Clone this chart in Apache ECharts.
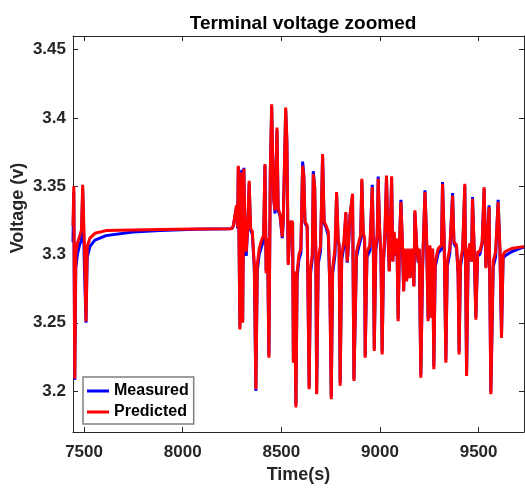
<!DOCTYPE html>
<html><head><meta charset="utf-8">
<script src="https://cdn.jsdelivr.net/npm/echarts@6/dist/echarts.min.js"></script>
<style>html,body{margin:0;padding:0;background:#fff}#c{width:525px;height:489px}</style>
</head><body><div id="c"></div>
<script>
const timeSec = [
7444,7448,7453,7458,7466,7479,7487,7493,7502,7510,
7516,7530,7555,7611,7748,7885,8062,8239,
8250,8257,8266,8273,8278,8282,8290,8295,8299,8304,
8310,8316,8322,8329,8337,8344,8353,8363,8371,8378,
8388,8400,8410,8417,8423,8430,8437,8444,8451,8456,
8461,8468,8478,8484,8493,8501,8505,8510,8522,8528,
8535,8545,8557,8561,8566,8574,8580,8589,8599,8608,
8614,8620,8631,8641,8648,8657,8662,8669,8675,8679,
8687,8699,8709,8717,8726,8738,8746,8753,8760,8772,
8780,8788,8793,8798,8806,8817,8827,8834,8841,8848,
8854,8861,8868,8881,8893,8902,8908,8915,8922,8925,
8934,8949,8961,8966,8971,8979,8986,8991,8998,9005,
9011,9018,9025,9033,9040,9047,9052,9059,9065,9072,
9081,9086,9092,9099,9106,9113,9120,9126,9135,9143,
9152,9160,9166,9172,9177,9186,9194,9199,9207,9216,
9228,9236,9244,9253,9262,9267,9273,9280,9295,9312,
9317,9325,9334,9341,9354,9368,9375,9388,9396,9401,
9408,9419,9430,9439,9447,9456,9464,9469,9477,9486,
9495,9506,9518,9528,9537,9543,9553,9562,9574,9586,
9599,9608,9616,9624,9633,9667,9700,9730
];
const predicted = [
3.321,3.350,3.209,3.300,3.308,3.314,3.318,3.351,3.305,3.251,
3.306,3.312,3.3155,3.3175,3.318,3.3183,3.3186,3.3188,
3.3190,3.3214,3.3210,3.3360,3.3200,3.3650,3.2450,3.3200,3.3600,3.2500,
3.3627,3.3120,3.3020,3.3190,3.3540,3.3190,3.3170,3.2923,3.2013,3.2923,
3.3044,3.3105,3.3141,3.3663,3.2862,3.3120,3.2244,3.3600,3.4100,3.3720,
3.3408,3.3323,3.3930,3.3335,3.3300,3.3287,3.3130,3.3263,3.4076,3.3845,
3.2923,3.3239,3.3239,3.2207,3.2875,3.1880,3.2870,3.2996,3.3044,3.3650,
3.3570,3.3239,3.3214,3.2013,3.2899,3.2996,3.3590,3.3500,3.2996,3.1977,
3.2972,3.3068,3.3736,3.3239,3.3214,3.3166,3.2753,3.1940,3.2899,3.3044,
3.3457,3.3117,3.3068,3.2038,3.2996,3.3093,3.3311,3.2948,3.3093,3.3287,
3.3287,3.3445,3.2074,3.3020,3.3093,3.3141,3.3554,3.3166,3.3117,3.2244,
3.3020,3.3068,3.3493,3.3117,3.2293,3.3068,3.3141,3.3554,3.3190,3.2996,
3.2268,3.2972,3.3166,3.3578,3.3166,3.2875,3.3141,3.3573,3.2948,3.3166,
3.2996,3.3117,3.2511,3.3093,3.3384,3.3117,3.2729,3.3044,3.2802,3.3044,
3.2826,3.3044,3.2923,3.2765,3.3323,3.3068,3.2948,3.3044,3.2098,3.2923,
3.3457,3.3141,3.2511,3.3068,3.2535,3.3044,3.2159,3.2948,3.3044,3.3068,
3.3517,3.3141,3.2207,3.2948,3.3044,3.3432,3.3093,3.3068,3.2850,3.2268,
3.2948,3.3044,3.3517,3.2111,3.3020,3.3081,3.2948,3.3408,3.3068,3.2523,
3.3020,3.3020,3.3093,3.3493,3.2899,3.3068,3.3348,3.1977,3.2948,3.3020,
3.3384,3.3044,3.2389,3.2996,3.3020,3.3044,3.3052,3.3057
];
const measured = [
3.309,3.346,3.208,3.290,3.300,3.308,3.310,3.348,3.290,3.250,
3.298,3.306,3.3105,3.3138,3.3165,3.3175,3.3184,3.3188,
3.3190,3.3210,3.3205,3.3350,3.3190,3.3640,3.2470,3.3180,3.3620,3.2520,
3.3635,3.3100,3.2990,3.3175,3.3520,3.3180,3.3150,3.2900,3.2000,3.2880,
3.3000,3.3060,3.3100,3.3650,3.2880,3.3110,3.2260,3.3580,3.4080,3.3700,
3.3420,3.3300,3.3910,3.3320,3.3290,3.3280,3.3120,3.3250,3.4060,3.3830,
3.2940,3.3230,3.3230,3.2230,3.2870,3.1900,3.2830,3.2960,3.3010,3.3680,
3.3580,3.3230,3.3200,3.2030,3.2860,3.2970,3.3610,3.3490,3.2990,3.1990,
3.2930,3.3030,3.3720,3.3230,3.3200,3.3140,3.2760,3.1960,3.2860,3.3000,
3.3440,3.3100,3.3060,3.2060,3.2960,3.3060,3.3300,3.2940,3.3080,3.3280,
3.3280,3.3430,3.2090,3.2980,3.3060,3.3110,3.3540,3.3150,3.3100,3.2260,
3.2980,3.3030,3.3510,3.3100,3.2310,3.3030,3.3120,3.3570,3.3180,3.2990,
3.2290,3.2940,3.3140,3.3560,3.3150,3.2880,3.3120,3.3560,3.2950,3.3150,
3.2990,3.3100,3.2530,3.3070,3.3400,3.3100,3.2740,3.3030,3.2810,3.3030,
3.2830,3.3030,3.2920,3.2770,3.3310,3.3050,3.2940,3.3030,3.2120,3.2890,
3.3470,3.3130,3.2530,3.3050,3.2550,3.3030,3.2180,3.2910,3.3010,3.3040,
3.3530,3.3130,3.2230,3.2910,3.3010,3.3450,3.3080,3.3050,3.2860,3.2290,
3.2910,3.3010,3.3500,3.2130,3.2990,3.3060,3.2950,3.3420,3.3050,3.2540,
3.2990,3.3000,3.3080,3.3480,3.2910,3.3050,3.3360,3.1990,3.2910,3.2980,
3.3400,3.3030,3.2410,3.2970,3.2990,3.3020,3.3040,3.3055
];
const xTicks = [7500, 8000, 8500, 9000, 9500];
const yTicks = [3.2, 3.25, 3.3, 3.35, 3.4, 3.45];
const xLimits = [7444, 9730];
const yLimits = [3.17, 3.46];

if (timeSec.length !== predicted.length || timeSec.length !== measured.length) {
  console.error('length mismatch', timeSec.length, predicted.length, measured.length);
}

const FONT = '"Liberation Sans", Arial, sans-serif';
const AX = '#262626';
const pair = vals => timeSec.map((t, i) => [t, vals[i]]);

const chart = echarts.init(document.getElementById('c'), null, {renderer: 'canvas'});
const baseX = {
  type: 'value', min: xLimits[0], max: xLimits[1],
  splitLine: {show: false},
  axisLine: {show: true, onZero: false, lineStyle: {color: AX, width: 1}},
  axisTick: {show: true, inside: true, length: 5, customValues: xTicks, lineStyle: {color: AX}},
};
const baseY = {
  type: 'value', min: yLimits[0], max: yLimits[1],
  splitLine: {show: false},
  axisLine: {show: true, onZero: false, lineStyle: {color: AX, width: 1}},
  axisTick: {show: true, inside: true, length: 5, customValues: yTicks, lineStyle: {color: AX}},
};
chart.setOption({
  animation: false,
  backgroundColor: '#fff',
  title: {
    text: 'Terminal voltage zoomed', left: 298, top: 9, textAlign: 'center',
    textStyle: {fontSize: 19, fontWeight: 'bold', color: '#000', fontFamily: FONT}
  },
  grid: {left: 73, right: 1, top: 36, bottom: 55, containLabel: false},
  legend: {
    orient: 'vertical', left: 83, top: 377,
    padding: [5, 5, 3, 4], itemGap: 3, itemWidth: 22, itemHeight: 3, icon: 'rect',
    backgroundColor: '#fff', borderColor: '#7f7f7f', borderWidth: 1.5,
    textStyle: {fontSize: 16, fontWeight: 'bold', color: '#000', lineHeight: 18, fontFamily: FONT},
    data: ['Measured', 'Predicted']
  },
  xAxis: [
    Object.assign({}, baseX, {
      position: 'bottom',
      axisLabel: {customValues: xTicks, formatter: v => String(v), margin: 12, fontSize: 17, fontWeight: 'bold', color: AX, fontFamily: FONT},
      name: 'Time(s)', nameLocation: 'middle', nameGap: 34,
      nameTextStyle: {fontSize: 18, fontWeight: 'bold', color: AX, fontFamily: FONT}
    }),
    Object.assign({}, baseX, {position: 'top', axisLabel: {show: false}})
  ],
  yAxis: [
    Object.assign({}, baseY, {
      position: 'left',
      axisLabel: {customValues: yTicks, formatter: v => String(v), margin: 7, fontSize: 17, fontWeight: 'bold', color: AX, fontFamily: FONT}
    }),
    Object.assign({}, baseY, {position: 'right', axisLabel: {show: false}})
  ],
  graphic: [{
    type: 'text', x: 18, y: 208, rotation: Math.PI / 2,
    style: {text: 'Voltage (v)', fill: AX, font: 'bold 18px ' + FONT, align: 'center', verticalAlign: 'middle'}
  }],
  series: [
    {name: 'Measured', type: 'line', xAxisIndex: 0, yAxisIndex: 0, data: pair(measured),
     showSymbol: false, symbol: 'none', color: '#0000ff', lineStyle: {color: '#0000ff', width: 3}, z: 2},
    {name: 'Predicted', type: 'line', xAxisIndex: 0, yAxisIndex: 0, data: pair(predicted),
     showSymbol: false, symbol: 'none', color: '#ff0000', lineStyle: {color: '#ff0000', width: 3}, z: 3}
  ]
});
</script>
</body></html>
